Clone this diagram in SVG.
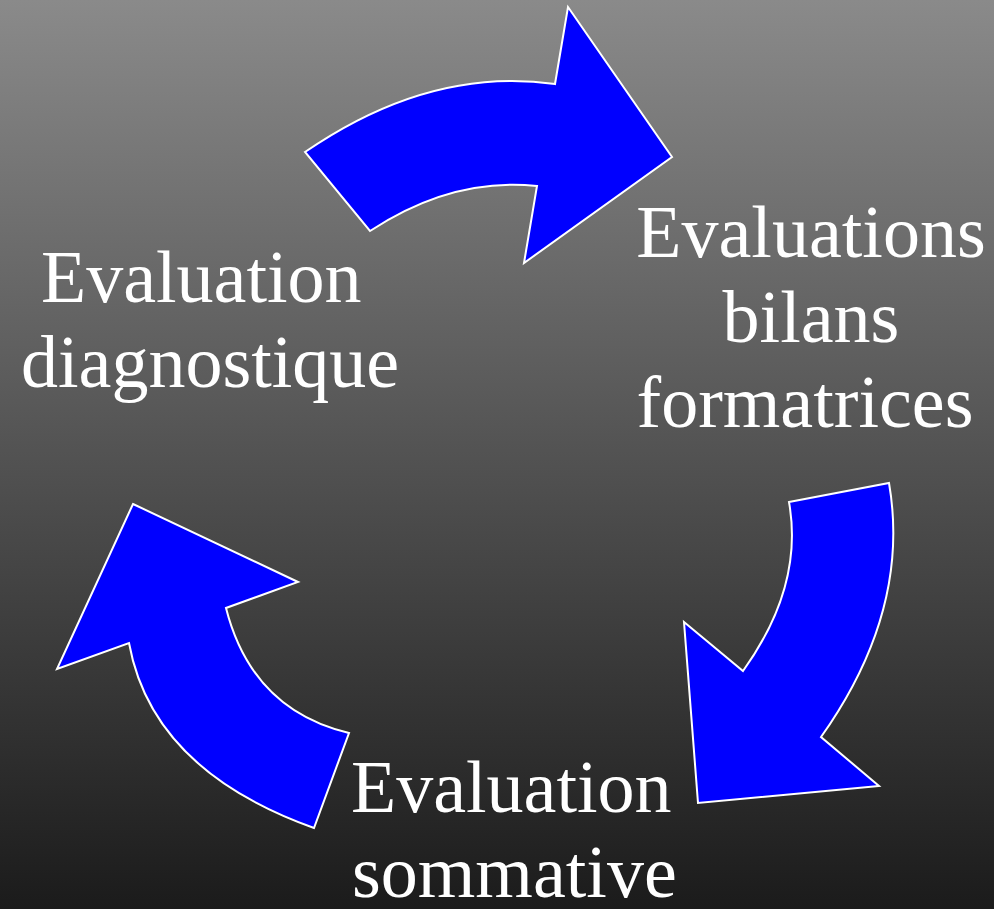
<svg xmlns="http://www.w3.org/2000/svg" width="994" height="909" viewBox="0 0 994 909">
<defs>
<linearGradient id="bg" x1="0" y1="0" x2="0" y2="1">
<stop offset="0" stop-color="#8a8a8a"/>
<stop offset="1" stop-color="#1b1b1b"/>
</linearGradient>
</defs>
<style>
.arrow{fill:#0000ff;stroke:#ffffff;stroke-width:2;stroke-linejoin:miter}
.lbl{font-family:"Liberation Serif","Times New Roman",serif;font-size:74px;fill:#ffffff}
</style>
<rect x="0" y="0" width="994" height="909" fill="url(#bg)"/>
<g id="connectors">
<path id="arrow-top" class="arrow" d="M305,152 Q430,66 555,84 L568,7 L672,157 L524,263 L537,186 Q452,177 370,231 Z"/>
<path id="arrow-right" class="arrow" d="M789,502 L889,483 Q911,610 821,737 L879,786 L698,803 L684,622 L743,671 Q804,586 789,502 Z"/>
<path id="arrow-left" class="arrow" d="M133,504 L298,582 L226,608 Q252,710 349,733 L314,828 Q152,770 129,643 L57,669 Z"/>
</g>
<g id="node-diagnostique">
<text class="lbl" x="41" y="302">Evaluation</text>
<text class="lbl" x="21" y="387">diagnostique</text>
</g>
<g id="node-formatrices">
<text class="lbl" x="811" y="257" text-anchor="middle">Evaluations</text>
<text class="lbl" x="811" y="342" text-anchor="middle">bilans</text>
<text class="lbl" x="805" y="427" text-anchor="middle">formatrices</text>
</g>
<g id="node-sommative">
<text class="lbl" x="351" y="812">Evaluation</text>
<text class="lbl" x="352" y="897">sommative</text>
</g>
</svg>
